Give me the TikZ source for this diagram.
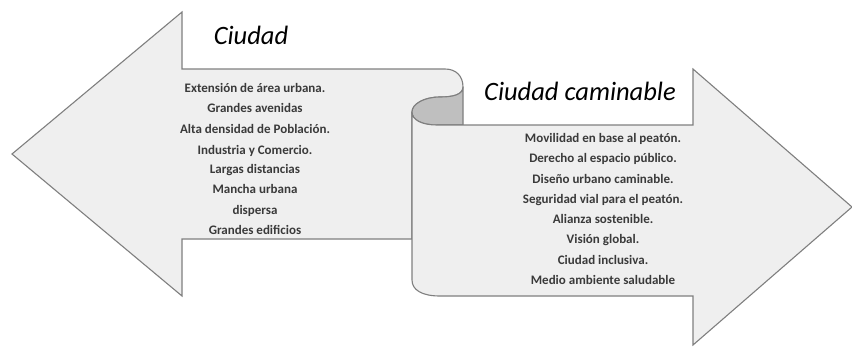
\documentclass[tikz,border=0pt]{standalone}
\usepackage{fontspec}
\setmainfont{Carlito}
\definecolor{shapefill}{HTML}{EFEFEF}
\definecolor{shapeline}{HTML}{7F7F7F}
\definecolor{rollfill}{HTML}{BFBFBF}
\definecolor{listtext}{HTML}{3A3A3A}
\begin{document}
\begin{tikzpicture}[x=1pt,y=-1pt,
  arrowshape/.style={fill=shapefill,draw=shapeline,line width=1.1pt,line join=miter},
  titletext/.style={font=\fontsize{26.5}{30}\selectfont\itshape,text=black,inner sep=0pt,anchor=base},
  listitem/.style={font=\fontsize{13}{15}\selectfont\bfseries,text=listtext,inner sep=0pt,anchor=base}]
\useasboundingbox (0,0) rectangle (852,349);
\begin{scope}
\clip (0,0) rectangle (852,349);
% left arrow with curl
\path[arrowshape] (12,154) -- (182,12) -- (182,69) -- (445,69)
  .. controls (456,69) and (463,76) .. (463,87)
  .. controls (463,95) and (452,97) .. (440,97)
  .. controls (424,97) and (412,104) .. (412,112)
  -- (412,239) -- (182,239) -- (182,296) -- cycle;
% dark roll
\path[fill=rollfill,draw=shapeline,line width=1.1pt]
  (412,112) .. controls (412,104) and (424,97) .. (440,97)
  .. controls (452,97) and (463,95) .. (463,87)
  -- (463,125) -- (437,125)
  .. controls (422,125) and (412,120) .. (412,112) -- cycle;
% right scroll arrow
\path[arrowshape] (412,112) .. controls (412,120) and (422,125) .. (437,125)
  -- (693,125) -- (693,69) -- (852,207) -- (693,345) -- (693,296)
  -- (440,296) .. controls (422,296) and (412,290) .. (412,280) -- cycle;
\end{scope}
\node[titletext] (t1) at (251,44) {Ciudad};
\node[titletext] (t2) at (580,100) {Ciudad caminable};
\node[listitem] (l1) at (255,92) {Extensión de área urbana.};
\node[listitem] (l2) at (255,112) {Grandes avenidas};
\node[listitem] (l3) at (255,133) {Alta densidad de Población.};
\node[listitem] (l4) at (255,154) {Industria y Comercio.};
\node[listitem] (l5) at (255,173) {Largas distancias};
\node[listitem] (l6) at (255,193) {Mancha urbana};
\node[listitem] (l7) at (255,214) {dispersa};
\node[listitem] (l8) at (255,234) {Grandes edificios};
\node[listitem] (r1) at (603,142) {Movilidad en base al peatón.};
\node[listitem] (r2) at (603,162) {Derecho al espacio público.};
\node[listitem] (r3) at (603,183) {Diseño urbano caminable.};
\node[listitem] (r4) at (603,203) {Seguridad vial para el peatón.};
\node[listitem] (r5) at (603,223) {Alianza sostenible.};
\node[listitem] (r6) at (603,243) {Visión global.};
\node[listitem] (r7) at (603,264) {Ciudad inclusiva.};
\node[listitem] (r8) at (603,284) {Medio ambiente saludable};
\end{tikzpicture}
\end{document}
